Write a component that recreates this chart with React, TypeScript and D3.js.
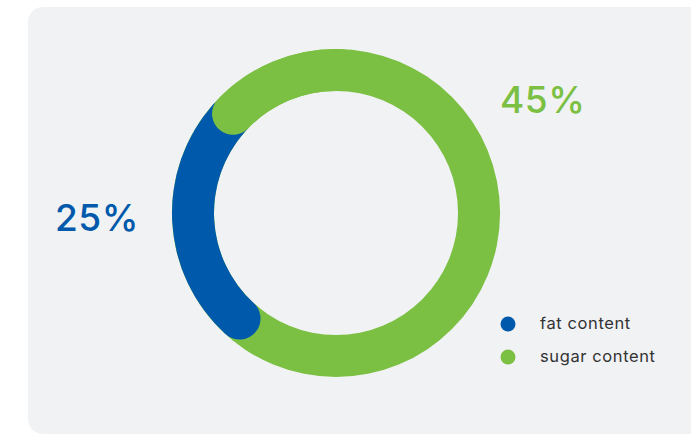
import React from "react";
import * as d3 from "d3";

const categories = ["fat content", "sugar content"];
const labels = ["25%", "45%"];
const colors = ["#0059aa", "#7bc043"];

const W = 691;
const H = 434;

export default function App() {
  const cx = 336;
  const cy = 213;
  const rOut = 164;
  const rIn = 122;
  const deg = Math.PI / 180;
  const capR = (rOut - rIn) / 2;

  const ring = d3.arc<any>().innerRadius(rIn).outerRadius(rOut);
  const capped = d3.arc<any>().innerRadius(rIn).outerRadius(rOut).cornerRadius(capR);

  const fullGreen = ring({ startAngle: 0, endAngle: 2 * Math.PI });
  const blueArc = capped({ startAngle: 214 * deg, endAngle: 320 * deg });
  const greenCap = capped({ startAngle: -54.5 * deg, endAngle: 10 * deg });

  const font = "Inter, 'Noto Sans', sans-serif";

  return (
    <svg width={W} height={H} style={{ position: "absolute", left: 0, top: 0 }}>
      <rect x={28} y={7} width={700} height={427} rx={15} fill="#f1f2f4" />
      <g transform={`translate(${cx},${cy})`}>
        <path d={fullGreen || ""} fill={colors[1]} />
        <path d={blueArc || ""} fill={colors[0]} />
        <path d={greenCap || ""} fill={colors[1]} />
      </g>
      <text x={55} y={231} fontFamily={font} fontSize={37} fontWeight={500} letterSpacing={0.5} fill={colors[0]}>
        {labels[0]}
      </text>
      <text x={500} y={113} fontFamily={font} fontSize={37} fontWeight={500} letterSpacing={0.5} fill={colors[1]}>
        {labels[1]}
      </text>
      {categories.map((c, i) => (
        <g key={c}>
          <circle cx={508} cy={324 + i * 33} r={7.5} fill={colors[i]} />
          <text x={540} y={329 + i * 33} fontFamily={font} fontSize={16.5} letterSpacing={0.6} fill="#333">
            {c}
          </text>
        </g>
      ))}
    </svg>
  );
}
